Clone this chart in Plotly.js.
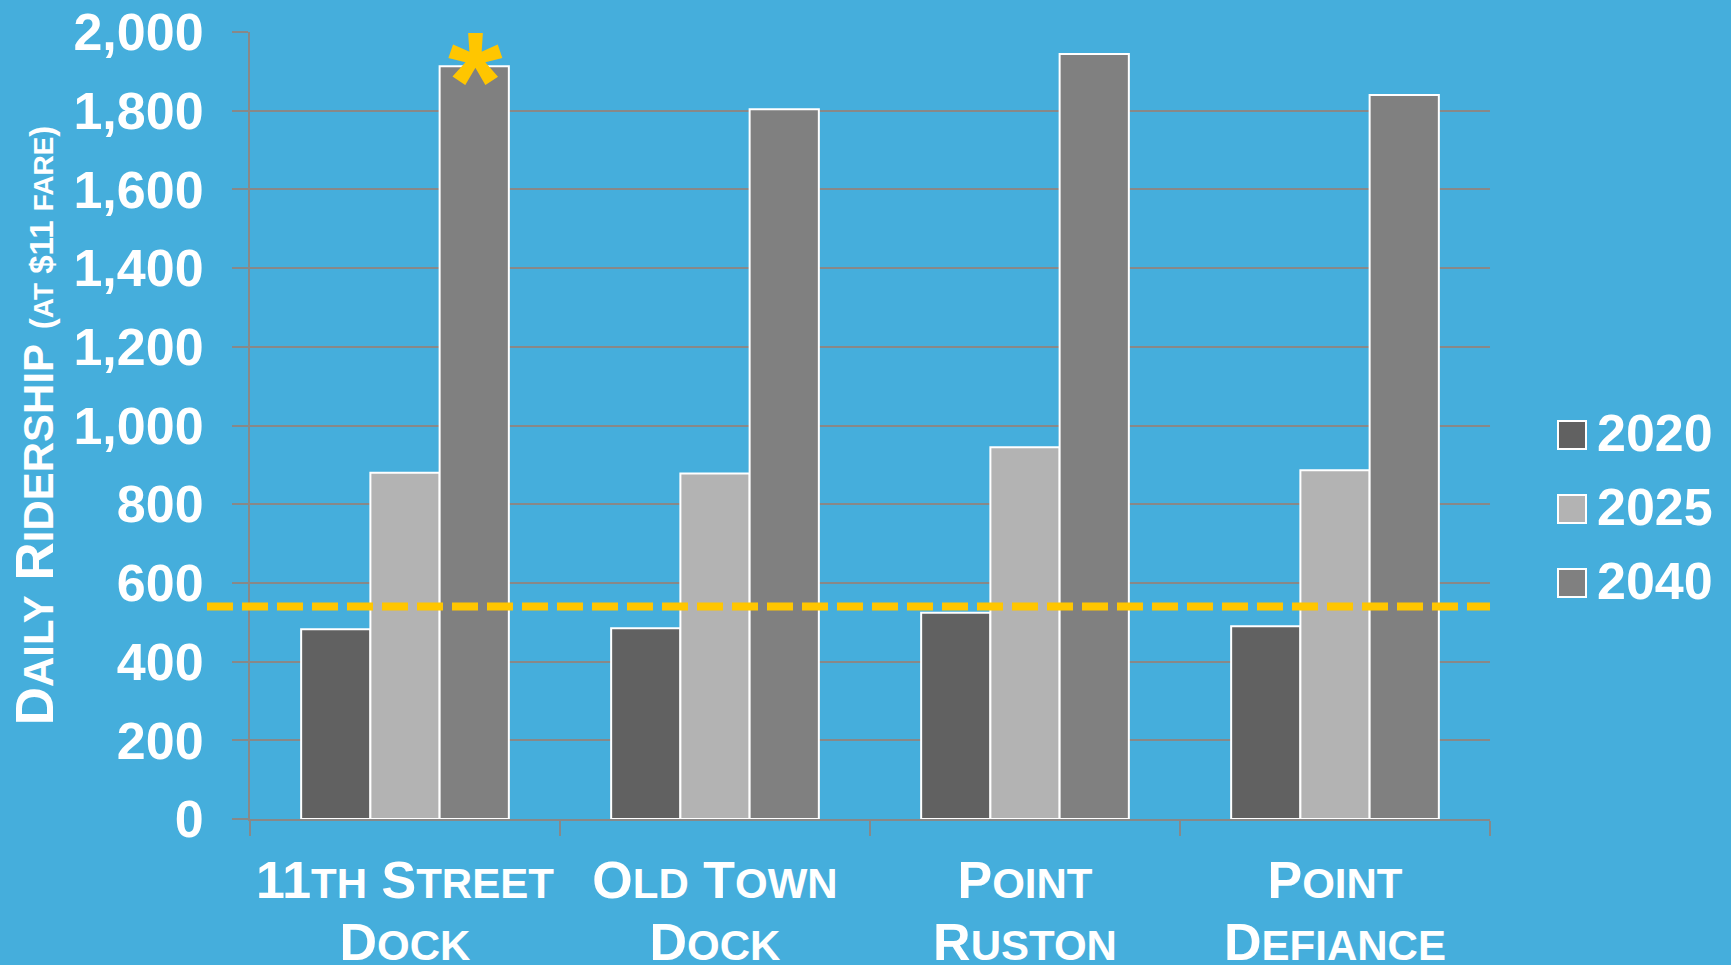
<!DOCTYPE html>
<html><head><meta charset="utf-8">
<script src="https://cdn.plot.ly/plotly-3.0.1.min.js"></script>
<style>html,body{margin:0;padding:0;background:#45AEDC;overflow:hidden;}</style>
</head><body><div id="chart" style="width:1731px;height:965px;"></div>
<script>
// ---- data ----
const categories = ['11th Street Dock', 'Old Town Dock', 'Point Ruston', 'Point Defiance'];
const B = s => "<span style='font-size:52px'>" + s + "</span>";
const S = s => "<span style='font-size:42px'>" + s + "</span>";
const tickLabels = [
  B('11') + S('TH') + B(' S') + S('TREET') + '<br>' + B('D') + S('OCK'),
  B('O') + S('LD') + B(' T') + S('OWN') + '<br>' + B('D') + S('OCK'),
  B('P') + S('OINT') + '<br>' + B('R') + S('USTON'),
  B('P') + S('OINT') + '<br>' + B('D') + S('EFIANCE')
];
const seriesNames = ['2020', '2025', '2040'];
const values2020 = [482, 485, 524, 490];
const values2025 = [880, 878, 945, 886];
const values2040 = [1913, 1804, 1944, 1840];
const thresholdValue = 540;
const yTickValues = [0, 200, 400, 600, 800, 1000, 1200, 1400, 1600, 1800, 2000];

// ---- styling ----
const seriesValues = [values2020, values2025, values2040];
const seriesColors = ['#616161', '#b3b3b3', '#808080'];
const bg = '#45AEDC';
const gridCol = '#888888';
const font = 'Arial, "Liberation Sans", sans-serif';

const traces = seriesNames.map((name, i) => ({
  type: 'bar',
  name: name,
  x: categories,
  y: seriesValues[i],
  marker: {color: seriesColors[i], line: {color: '#ffffff', width: 2}},
  showlegend: false,
  hoverinfo: 'x+y+name'
}));

// plot geometry (px) for manual legend
const W = 1731, H = 965;
const margin = {l: 250, r: 241, t: 32, b: 146};
const pw = W - margin.l - margin.r, ph = H - margin.t - margin.b;
const px2x = px => (px - margin.l) / pw;
const py2y = py => (H - margin.b - py) / ph;

const shapes = [{
  type: 'line', layer: 'above',
  xref: 'paper', yref: 'y',
  x0: px2x(207), x1: 1.0, y0: thresholdValue, y1: thresholdValue,
  line: {color: '#FFC600', width: 8, dash: '26px,9px'}
}];
const annotations = [{
  x: categories[0], y: values2040[0], xref: 'x', yref: 'y',
  text: '*', showarrow: false, xshift: 70, yshift: -14,
  xanchor: 'center', yanchor: 'middle',
  font: {family: font, size: 140, color: '#FFC600', weight: 'bold'}
}];
seriesNames.forEach((name, i) => {
  const cy = 435 + 74 * i;
  shapes.push({
    type: 'rect', xref: 'paper', yref: 'paper', layer: 'above',
    x0: px2x(1558), x1: px2x(1586), y0: py2y(cy + 14), y1: py2y(cy - 14),
    fillcolor: seriesColors[i], line: {color: '#ffffff', width: 2}
  });
  annotations.push({
    xref: 'paper', yref: 'paper', x: px2x(1595), y: py2y(cy - 2),
    xanchor: 'left', yanchor: 'middle', showarrow: false,
    text: name, font: {family: font, size: 52, color: '#ffffff', weight: 'bold'}
  });
});

const layout = {
  width: W, height: H,
  margin: margin,
  paper_bgcolor: bg, plot_bgcolor: bg,
  barmode: 'group', bargap: 0.33, bargroupgap: 0,
  showlegend: false,
  font: {family: font, color: '#ffffff'},
  xaxis: {
    type: 'category',
    tickvals: categories, ticktext: tickLabels,
    tickfont: {family: font, size: 47, color: '#ffffff', weight: 'bold'},
    showline: true, linecolor: gridCol, linewidth: 2,
    ticks: 'outside', tickson: 'boundaries', ticklen: 15, tickwidth: 2, tickcolor: gridCol,
    showgrid: false, zeroline: false,
    ticklabelstandoff: 21
  },
  yaxis: {
    range: [0, 2000],
    tickvals: yTickValues, tickformat: ',',
    tickfont: {family: font, size: 52, color: '#ffffff', weight: 'bold'},
    showline: true, linecolor: gridCol, linewidth: 2,
    ticks: 'outside', ticklen: 16, tickwidth: 2, tickcolor: gridCol,
    showgrid: true, gridcolor: gridCol, gridwidth: 2,
    zeroline: false,
    ticklabelstandoff: 18,
    title: {
      text: "D<span style='font-size:42px'>AILY</span> R<span style='font-size:42px'>IDERSHIP</span> " +
            "<span style='font-size:33px'>(</span><span style='font-size:28px'>AT</span>" +
            "<span style='font-size:33px'> $11 </span><span style='font-size:28px'>FARE</span>" +
            "<span style='font-size:33px'>)</span>",
      font: {family: font, size: 53, color: '#ffffff', weight: 'bold'},
      standoff: 3
    }
  },
  shapes: shapes,
  annotations: annotations
};

Plotly.newPlot('chart', traces, layout, {displayModeBar: false, staticPlot: true});
</script>
</body></html>
